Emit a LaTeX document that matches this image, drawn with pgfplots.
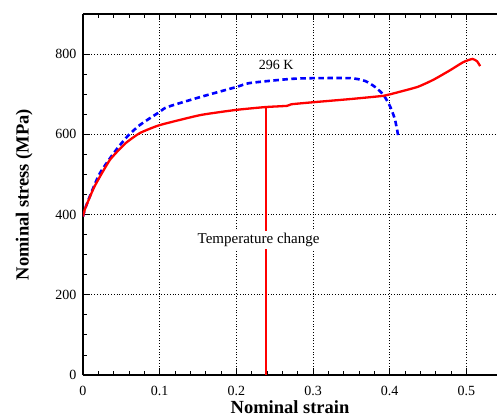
\documentclass[border=0pt]{standalone}
\usepackage{pgfplots}
\pgfplotsset{compat=1.18}
\usepackage{fontspec}
\setmainfont{Liberation Serif}
\begin{document}
\begin{tikzpicture}
\begin{axis}[
  scale only axis, width=414pt, height=361pt,
  xmin=0, xmax=0.54, ymin=0, ymax=900,
  axis x line*=box, axis y line*=left,
  axis line style={line width=2pt},
  xtick={0,0.1,0.2,0.3,0.4,0.5},
  xticklabels={0,0.1,0.2,0.3,0.4,0.5},
  ytick={0,200,400,600,800},
  minor x tick num=4, minor y tick num=3,
  tick align=inside,
  major tick length=6pt, minor tick length=4pt,
  tick style={black, line width=0.8pt},
  grid=major,
  major grid style={black, line width=0.8pt, dash pattern=on 1pt off 1.8pt},
  ticklabel style={font=\fontsize{14}{14}\selectfont},
  /pgf/number format/assume math mode=true,
  xticklabel style={yshift=-8pt},
  yticklabel style={xshift=-3pt},
  xlabel={\textbf{Nominal strain}},
  ylabel={\textbf{Nominal stress (MPa)}},
  label style={font=\fontsize{18.5}{18.5}\selectfont},
  xlabel style={inner sep=0pt, yshift=-1pt},
  ylabel style={yshift=16pt},
]
\addplot[blue, line width=2.6pt, dash pattern=on 5.5pt off 3.5pt, smooth, tension=0.4] coordinates {
(0,395) (0.003,416) (0.012,460) (0.022,503) (0.04,553) (0.057,593) (0.074,623) (0.1,656) (0.11,668)
(0.153,693) (0.2,718) (0.218,728) (0.27,738) (0.3,740) (0.349,740) (0.368,733) (0.381,718)
(0.392,698) (0.401,668) (0.407,636) (0.411,598)
};
\addplot[red, line width=2.3pt, smooth, tension=0.3] coordinates {
(0,395) (0.003,416) (0.015,470) (0.035,536) (0.055,577) (0.074,603) (0.1,623) (0.153,648) (0.2,661)
(0.238,668) (0.266,671) (0.272,675) (0.3,680) (0.349,688) (0.392,696) (0.401,700)
(0.436,718) (0.457,736) (0.479,760) (0.496,780) (0.508,788) (0.514,782) (0.518,770)
};
\addplot[red, line width=2pt] coordinates {(0.239,0) (0.239,668)};
\node[fill=white, inner sep=2pt, font=\fontsize{15}{15}\selectfont] at (axis cs:0.229,337) {Temperature change};
\node[font=\fontsize{14}{14}\selectfont] at (axis cs:0.252,772) {296 K};
\end{axis}
\pgfresetboundingbox
\useasboundingbox ([xshift=-83pt,yshift=-43pt]current axis.south west) rectangle ([yshift=14pt]current axis.north east);
\end{tikzpicture}
\end{document}
